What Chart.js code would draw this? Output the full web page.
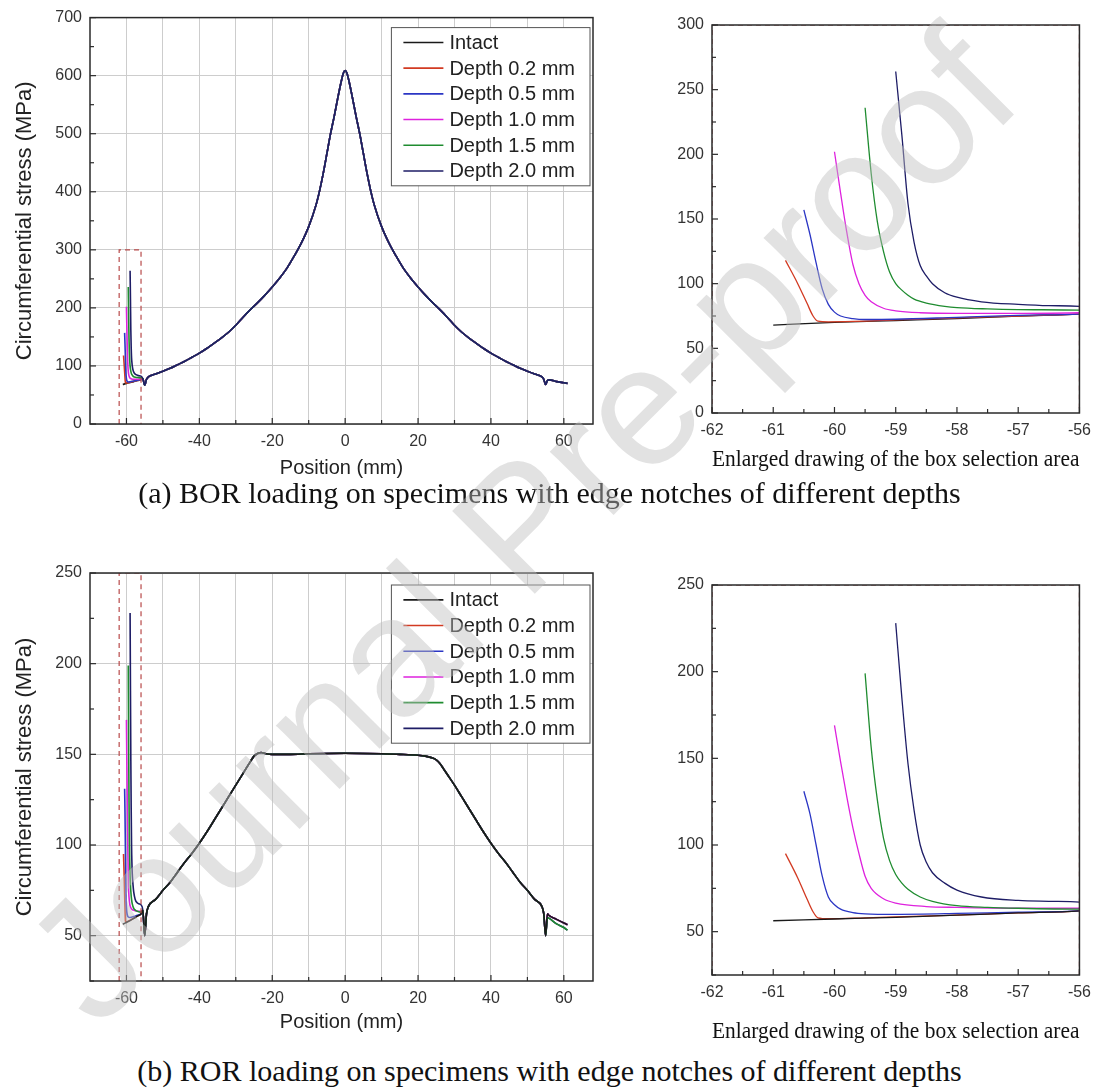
<!DOCTYPE html>
<html><head><meta charset="utf-8">
<script src="https://cdn.jsdelivr.net/npm/chart.js@4.4.1/dist/chart.umd.min.js"></script>
<style>
html,body{margin:0;padding:0;background:#fff;}
#page{position:relative;width:1099px;height:1089px;overflow:hidden;background:#fff;}
canvas{position:absolute;}
.cap{position:absolute;left:0;width:1099px;text-align:center;font-family:"Liberation Serif","Times New Roman",serif;font-size:30px;line-height:34px;color:#111;white-space:nowrap;}
#wm{position:absolute;left:520px;top:525px;transform:translate(-50%,-50%) rotate(-45deg);font-family:"Liberation Sans",Arial,sans-serif;font-size:170px;color:rgba(190,190,190,0.45);white-space:nowrap;pointer-events:none;}
</style></head>
<body><div id="page">
<canvas id="c1" width="600" height="490" style="left:0;top:0"></canvas>
<canvas id="c2" width="499" height="490" style="left:600px;top:0"></canvas>
<canvas id="c3" width="600" height="500" style="left:0;top:545px"></canvas>
<canvas id="c4" width="499" height="505" style="left:600px;top:545px"></canvas>
<div class="cap" style="top:476px">(a) BOR loading on specimens with edge notches of different depths</div>
<div class="cap" style="top:1054px">(b) ROR loading on specimens with edge notches of different depths</div>
<div id="wm">Journal Pre-proof</div>
</div>
<script>
// ---------- series names ----------
const seriesLabels = ['Intact', 'Depth 0.2 mm', 'Depth 0.5 mm', 'Depth 1.0 mm', 'Depth 1.5 mm', 'Depth 2.0 mm'];

// ---------- BOR: notch region (start of each curve up to -56 mm) ----------
const bor_intact_x = [-61, -60, -59, -58, -57, -56];
const bor_intact_y = [68, 70, 71.5, 73, 75, 76.5];
const bor_d02_x = [-60.8, -60.6, -60.45, -60.35, -60.27, -60.1, -59.5, -59, -58, -57, -56];
const bor_d02_y = [118, 100, 85, 75, 71, 70.5, 71, 72, 73.5, 75, 76.5];
const bor_d05_x = [-60.5, -60.4, -60.3, -60.2, -60.1, -60, -59.9, -59.7, -59.5, -59, -58, -57, -56];
const bor_d05_y = [157, 138, 116, 96, 84, 78, 75, 73, 72.3, 72.5, 74, 75.5, 76.5];
const bor_d10_x = [-60, -59.9, -59.8, -59.7, -59.6, -59.5, -59.4, -59.2, -59, -58.6, -58, -57, -56];
const bor_d10_y = [202, 170, 140, 115, 100, 91, 86, 81, 79, 77.5, 77, 77, 77.5];
const bor_d15_x = [-59.5, -59.4, -59.3, -59.2, -59.1, -59, -58.9, -58.8, -58.7, -58.5, -58.2, -58, -57.5, -57, -56];
const bor_d15_y = [236, 185, 148, 125, 109, 100, 95, 91, 88, 85, 82.5, 81.5, 80.5, 80, 79.5];
const bor_d20_x = [-59, -58.9, -58.8, -58.7, -58.6, -58.5, -58.4, -58.2, -58, -57.6, -57, -56.5, -56];
const bor_d20_y = [264, 215, 162, 132, 114, 106, 100, 93, 89.5, 86, 84, 83, 82.5];
// ---------- BOR: shared remainder of the curve ----------
const bor_tail_x = [-55.5, -55, -54.5, -54, -52, -50, -48, -46, -44, -42, -40, -38, -36, -34, -32, -30, -28, -26, -24, -22, -20, -18, -16, -14, -12, -10, -8, -7, -6, -5, -4, -3, -2, -1, -0.5, 0, 0.5, 1, 2, 3, 4, 5, 6, 7, 8, 10, 12, 14, 16, 18, 20, 22, 24, 26, 28, 30, 32, 34, 36, 38, 40, 42, 44, 46, 48, 50, 52, 54, 54.5, 55, 55.5, 56, 58, 60, 61];
const bor_tail_y = [78, 67, 77, 81, 86, 91, 96, 102, 108, 115, 122, 130, 139, 148, 158, 170, 184, 197, 209, 222, 236, 251, 268, 289, 312, 340, 377, 402, 432, 466, 500, 530, 562, 592, 604, 609, 604, 592, 562, 530, 500, 466, 432, 402, 377, 340, 312, 289, 268, 251, 236, 222, 209, 197, 184, 170, 158, 148, 139, 130, 122, 115, 108, 102, 96, 91, 86, 81, 77, 68, 75, 76, 73, 71, 70];

// ---------- ROR: notch region ----------
const ror_intact_x = [-61, -60, -59, -58, -57, -56];
const ror_intact_y = [56.3, 57.3, 58.3, 59.5, 60.8, 62];
const ror_d02_x = [-60.8, -60.6, -60.45, -60.35, -60.27, -60.1, -59.5, -59, -58, -57, -56];
const ror_d02_y = [95, 81, 69, 61.5, 58, 57.5, 58, 58.5, 59.6, 60.8, 62];
const ror_d05_x = [-60.5, -60.4, -60.3, -60.2, -60.1, -60, -59.9, -59.7, -59.5, -59, -58, -57, -56];
const ror_d05_y = [131, 118, 100, 82, 70, 65.5, 63, 61, 60.3, 60, 60.5, 61.3, 62];
const ror_d10_x = [-60, -59.9, -59.8, -59.7, -59.6, -59.5, -59.4, -59.2, -59, -58.5, -58, -57, -56];
const ror_d10_y = [169, 148, 128, 110, 95, 82, 75, 69, 66.5, 64.5, 64, 63.5, 63.5];
const ror_d15_x = [-59.5, -59.4, -59.3, -59.2, -59.1, -59, -58.9, -58.8, -58.6, -58.4, -58, -57.5, -57, -56];
const ror_d15_y = [199, 156, 126, 104, 91, 83, 78, 74.5, 70, 67.5, 65, 64, 63.5, 63];
const ror_d20_x = [-59, -58.9, -58.8, -58.7, -58.6, -58.5, -58.4, -58.2, -58, -57.6, -57, -56.5, -56];
const ror_d20_y = [228, 185, 147, 120, 100, 90, 84, 78, 74, 70, 68, 67.5, 67];
// ---------- ROR: shared middle part ----------
const ror_tail_x = [-55.5, -55, -54.5, -54, -52, -50, -48, -46, -44, -42, -40, -38, -36, -34, -32, -30, -28, -26, -25, -24, -23, -22, -20, -15, -10, -5, 0, 5, 10, 15, 20, 22, 24, 25, 26, 27, 28, 30, 32, 34, 36, 38, 40, 42, 44, 46, 48, 50, 52, 54, 54.5, 55];
const ror_tail_y = [64, 50, 62, 66, 70, 75, 79.5, 85, 90.5, 95.5, 101, 107, 113.5, 120, 126.5, 133, 139.5, 146, 149, 150.5, 151, 150.5, 150, 150, 150.3, 150.5, 150.6, 150.5, 150.3, 150, 149.5, 149, 148, 147, 145, 142, 139, 133, 126.5, 120, 113.5, 107, 101, 95.5, 90.5, 85, 79.5, 75, 70, 66, 62, 50];
// ---------- ROR: right edge (two groups) ----------
const ror_end_x = [55.5, 56, 58, 60, 61];
const ror_end_a_y = [62, 61, 59, 57, 56];
const ror_end_b_y = [60, 59.5, 56.5, 54.5, 53];

// ---------- selection box ----------
const box_x = [-62, -62, -56, -56];
const bor_box_y = [0, 300, 300, 0];
const ror_box_y = [25, 250, 250, 25];

// ---------- ticks ----------
const main_x_ticks = [-60, -50, -40, -30, -20, -10, 0, 10, 20, 30, 40, 50, 60];
const main_x_labels = [-60, -40, -20, 0, 20, 40, 60];
const bor_y_ticks = [0, 50, 100, 150, 200, 250, 300, 350, 400, 450, 500, 550, 600, 650, 700];
const bor_y_labels = [0, 100, 200, 300, 400, 500, 600, 700];
const ror_y_ticks = [25, 50, 75, 100, 125, 150, 175, 200, 225, 250];
const ror_y_labels = [50, 100, 150, 200, 250];
const zoom_x_ticks = [-62, -61.5, -61, -60.5, -60, -59.5, -59, -58.5, -58, -57.5, -57, -56.5, -56];
const zoom_x_labels = [-62, -61, -60, -59, -58, -57, -56];
const borz_y_ticks = [0, 25, 50, 75, 100, 125, 150, 175, 200, 225, 250, 275, 300];
const borz_y_labels = [0, 50, 100, 150, 200, 250, 300];

// ---------- styles ----------
const colors = ['#1a1a1a', '#d23a22', '#2b36c4', '#de22de', '#1f8c30', '#1e1d66'];
const borOrder = [5, 4, 3, 2, 1, 0];   // Depth 2.0 mm drawn on top
const rorOrder = [0, 5, 4, 3, 1, 2];   // Intact on top
const SANS = '"Liberation Sans", Arial, Helvetica, sans-serif';
const SERIF = '"Liberation Serif", "Times New Roman", serif';

function pts(xs, ys) { return xs.map((x, i) => ({ x: x, y: ys[i] })); }

const borData = [
  pts(bor_intact_x.concat(bor_tail_x), bor_intact_y.concat(bor_tail_y)),
  pts(bor_d02_x.concat(bor_tail_x), bor_d02_y.concat(bor_tail_y)),
  pts(bor_d05_x.concat(bor_tail_x), bor_d05_y.concat(bor_tail_y)),
  pts(bor_d10_x.concat(bor_tail_x), bor_d10_y.concat(bor_tail_y)),
  pts(bor_d15_x.concat(bor_tail_x), bor_d15_y.concat(bor_tail_y)),
  pts(bor_d20_x.concat(bor_tail_x), bor_d20_y.concat(bor_tail_y))
];
const rorData = [
  pts(ror_intact_x.concat(ror_tail_x, ror_end_x), ror_intact_y.concat(ror_tail_y, ror_end_a_y)),
  pts(ror_d02_x.concat(ror_tail_x, ror_end_x), ror_d02_y.concat(ror_tail_y, ror_end_a_y)),
  pts(ror_d05_x.concat(ror_tail_x, ror_end_x), ror_d05_y.concat(ror_tail_y, ror_end_a_y)),
  pts(ror_d10_x.concat(ror_tail_x, ror_end_x), ror_d10_y.concat(ror_tail_y, ror_end_a_y)),
  pts(ror_d15_x.concat(ror_tail_x, ror_end_x), ror_d15_y.concat(ror_tail_y, ror_end_b_y)),
  pts(ror_d20_x.concat(ror_tail_x, ror_end_x), ror_d20_y.concat(ror_tail_y, ror_end_b_y))
];

const framePlugin = {
  id: 'frameTicks',
  afterDraw(chart) {
    const { ctx, chartArea: a } = chart;
    ctx.save();
    ctx.strokeStyle = '#2a2a2a';
    ctx.lineWidth = 1.5;
    ctx.strokeRect(a.left, a.top, a.right - a.left, a.bottom - a.top);
    ctx.lineWidth = 1.2;
    const xs = chart.scales.x, ys = chart.scales.y;
    xs.ticks.forEach(t => {
      const px = xs.getPixelForValue(t.value);
      const len = t.label !== '' ? 6 : 4;
      ctx.beginPath(); ctx.moveTo(px, a.bottom); ctx.lineTo(px, a.bottom - len); ctx.stroke();
    });
    ys.ticks.forEach(t => {
      const py = ys.getPixelForValue(t.value);
      const len = t.label !== '' ? 6 : 4;
      ctx.beginPath(); ctx.moveTo(a.left, py); ctx.lineTo(a.left + len, py); ctx.stroke();
    });
    ctx.restore();
  }
};

const legendPlugin = {
  id: 'inLegend',
  afterDraw(chart, args, opts) {
    if (!opts || !opts.show) return;
    const { ctx, chartArea: a } = chart;
    const items = chart.data.datasets.filter(d => d.inLegend);
    ctx.save();
    ctx.font = '20px ' + SANS;
    const tw = Math.max(...items.map(d => ctx.measureText(d.label).width));
    const rowH = 25.7;
    const w = 59 + tw + 14, h = items.length * rowH + 4;
    const x0 = a.right - 3 - w, y0 = a.top + opts.dy;
    ctx.fillStyle = '#fff';
    ctx.fillRect(x0, y0, w, h);
    ctx.strokeStyle = '#555'; ctx.lineWidth = 1;
    ctx.strokeRect(x0, y0, w, h);
    items.forEach((d, i) => {
      const cy = y0 + 2 + rowH * (i + 0.5);
      ctx.strokeStyle = d.borderColor; ctx.lineWidth = 1.6;
      ctx.beginPath(); ctx.moveTo(x0 + 12, cy); ctx.lineTo(x0 + 52, cy); ctx.stroke();
      ctx.fillStyle = '#222'; ctx.textBaseline = 'middle'; ctx.textAlign = 'left';
      ctx.fillText(d.label, x0 + 58, cy + 1);
    });
    ctx.restore();
  }
};

function datasets(data, boxY, lw, order) {
  const ds = data.map((d, i) => ({
    label: seriesLabels[i], data: d, borderColor: colors[i], borderWidth: lw, order: order[i],
    pointRadius: 0, cubicInterpolationMode: 'monotone', fill: false, inLegend: true
  }));
  ds.push({ label: 'box', data: pts(box_x, boxY), borderColor: '#b84a4a', borderWidth: 1.2, order: -1,
    borderDash: [5, 4], pointRadius: 0, fill: false, inLegend: false });
  return ds;
}

function makeChart(id, o) {
  return new Chart(document.getElementById(id), {
    type: 'line',
    data: { datasets: o.datasets },
    options: {
      responsive: false, animation: false, events: [],
      layout: { padding: o.pad },
      plugins: { legend: { display: false }, tooltip: { enabled: false }, inLegend: o.legend || { show: false } },
      scales: {
        x: {
          type: 'linear', min: o.xmin, max: o.xmax,
          afterBuildTicks: s => { s.ticks = o.xticks.map(v => ({ value: v })); },
          afterFit: s => { s.height = o.xh; },
          ticks: { autoSkip: false, maxRotation: 0, padding: 8, color: '#333', font: { size: 16, family: SANS },
            callback: v => o.xlabels.includes(v) ? String(v) : '' },
          grid: { display: o.grid, drawTicks: false, color: '#cdcdcd', lineWidth: 1 },
          border: { display: false },
          title: o.xtitle
        },
        y: {
          type: 'linear', min: o.ymin, max: o.ymax,
          afterBuildTicks: s => { s.ticks = o.yticks.map(v => ({ value: v })); },
          afterFit: s => { s.width = o.yw; },
          ticks: { autoSkip: false, padding: 8, color: '#333', font: { size: 16, family: SANS },
            callback: v => o.ylabels.includes(v) ? String(v) : '' },
          grid: { display: o.grid, drawTicks: false, lineWidth: 1,
            color: c => (c.tick && o.ylabels.includes(c.tick.value)) ? '#cdcdcd' : 'rgba(0,0,0,0)' },
          border: { display: false },
          title: o.ytitle
        }
      }
    },
    plugins: [framePlugin, legendPlugin]
  });
}

const yTitle = { display: true, text: 'Circumferential stress (MPa)', color: '#222',
  font: { size: 22, family: SANS }, padding: { top: 12, bottom: 0 } };
const zoomTitle = (pb) => ({ display: true, text: 'Enlarged drawing of the box selection area', color: '#111',
  font: { size: 23, family: SERIF }, padding: { top: 0, bottom: pb } });
const posTitle = (pb) => ({ display: true, text: 'Position (mm)', color: '#222',
  font: { size: 20, family: SANS }, padding: { top: 0, bottom: pb } });

makeChart('c1', {
  datasets: datasets(borData, bor_box_y, 1.6, borOrder), pad: { top: 17, right: 7, left: 0, bottom: 0 },
  xmin: -70, xmax: 68, xticks: main_x_ticks, xlabels: main_x_labels, xh: 66,
  ymin: 0, ymax: 700, yticks: bor_y_ticks, ylabels: bor_y_labels, yw: 90,
  grid: true, xtitle: posTitle(10), ytitle: yTitle, legend: { show: true, dy: 10 }
});
makeChart('c2', {
  datasets: datasets(borData, bor_box_y, 1.3, borOrder), pad: { top: 25, right: 17, left: 0, bottom: 0 },
  xmin: -62, xmax: -56, xticks: zoom_x_ticks, xlabels: zoom_x_labels, xh: 77,
  ymin: 0, ymax: 300, yticks: borz_y_ticks, ylabels: borz_y_labels, yw: 112,
  grid: false, xtitle: zoomTitle(16), ytitle: { display: false }
});
makeChart('c3', {
  datasets: datasets(rorData, ror_box_y, 1.6, rorOrder), pad: { top: 28, right: 7, left: 0, bottom: 0 },
  xmin: -70, xmax: 68, xticks: main_x_ticks, xlabels: main_x_labels, xh: 64,
  ymin: 25, ymax: 250, yticks: ror_y_ticks, ylabels: ror_y_labels, yw: 90,
  grid: true, xtitle: posTitle(11), ytitle: yTitle, legend: { show: true, dy: 12 }
});
makeChart('c4', {
  datasets: datasets(rorData, ror_box_y, 1.3, rorOrder), pad: { top: 40, right: 17, left: 0, bottom: 0 },
  xmin: -62, xmax: -56, xticks: zoom_x_ticks, xlabels: zoom_x_labels, xh: 75,
  ymin: 25, ymax: 250, yticks: ror_y_ticks, ylabels: ror_y_labels, yw: 112,
  grid: false, xtitle: zoomTitle(4), ytitle: { display: false }
});
</script>
</body></html>
